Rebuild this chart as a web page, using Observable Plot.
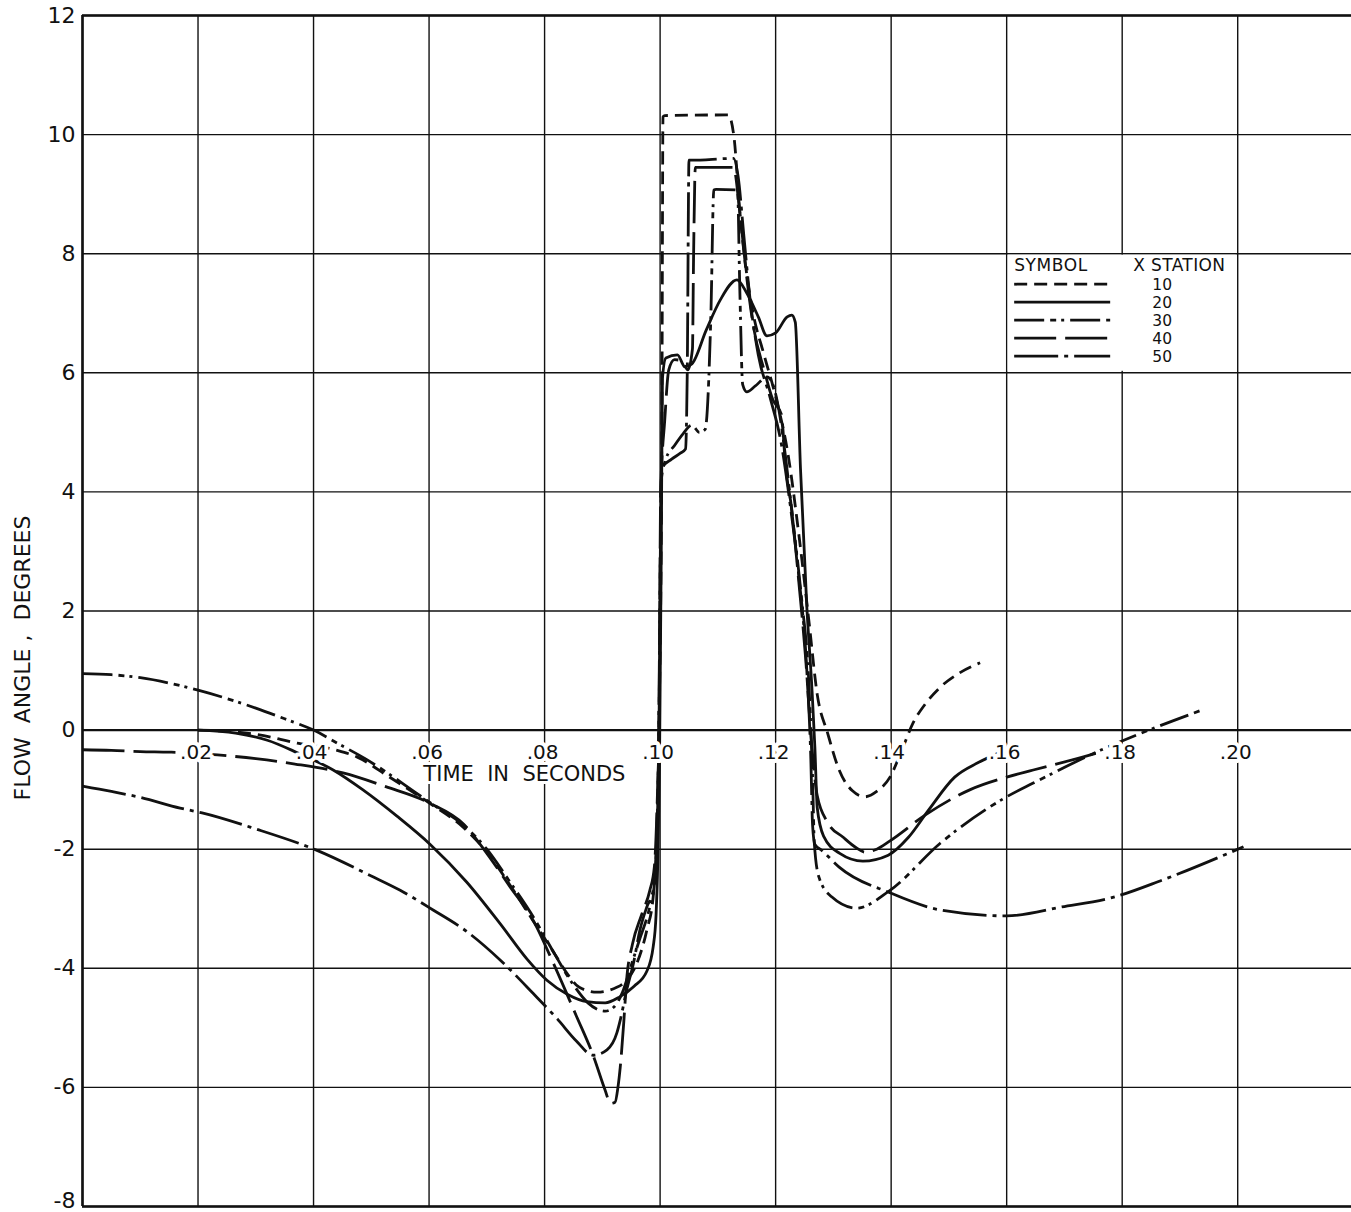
<!DOCTYPE html>
<html><head><meta charset="utf-8">
<script src="https://cdn.jsdelivr.net/npm/d3@7"></script>
<script src="https://cdn.jsdelivr.net/npm/@observablehq/plot@0.6"></script>
<style>
body{margin:0;background:#fff}
#chart{position:relative;width:1351px;height:1212px}
svg{display:block}
</style>
</head><body><div id="chart"></div>
<script>
// ---- tick values and labels ----
const xTicks = [0, 0.02, 0.04, 0.06, 0.08, 0.10, 0.12, 0.14, 0.16, 0.18, 0.20];
const xTickLabels = ["", ".02", ".04", ".06", ".08", ".10", ".12", ".14", ".16", ".18", ".20"];
const yTicks = [-8, -6, -4, -2, 0, 2, 4, 6, 8, 10, 12];
const yTickLabels = ["-8", "-6", "-4", "-2", "0", "2", "4", "6", "8", "10", "12"];
const xTitle = "TIME  IN  SECONDS";
const yTitle = "FLOW  ANGLE ,  DEGREES";
const legendHeader = ["SYMBOL", "X STATION"];
const stations = ["10", "20", "30", "40", "50"];

// ---- series: [time (s), flow angle (deg)] ----
const s10 = [[0.020,0],[0.025,-0.02],[0.030,-0.07],[0.0372,-0.22],[0.0441,-0.34],[0.0475,-0.45],[0.053,-0.78],[0.060,-1.22],[0.066,-1.64],[0.070,-2.05],[0.074,-2.6],[0.078,-3.2],[0.0815,-3.72],[0.084,-4.1],[0.086,-4.32],[0.0891,-4.40],[0.0925,-4.32],[0.0942,-4.2],[0.096,-3.91],[0.0977,-3.36],[0.0988,-2.8],[0.0994,-1.8],[0.0998,0],[0.1003,5],[0.1005,10.3],[0.1008,10.32],[0.1118,10.33],[0.1128,9.95],[0.1138,8.7],[0.1148,7.8],[0.116,7.05],[0.118,6.3],[0.1200,5.6],[0.1222,4.6],[0.1240,3.3],[0.1258,1.8],[0.1272,0.6],[0.1290,-0.05],[0.1310,-0.67],[0.1333,-1.02],[0.1355,-1.12],[0.1375,-1.03],[0.1398,-0.79],[0.1418,-0.35],[0.1438,0.12],[0.146,0.45],[0.1485,0.72],[0.152,0.97],[0.1554,1.13]];
const s20 = [[0.020,0],[0.0265,-0.05],[0.032,-0.17],[0.0372,-0.38],[0.0434,-0.67],[0.0485,-1.0],[0.0545,-1.45],[0.0602,-1.92],[0.0665,-2.55],[0.0723,-3.25],[0.077,-3.85],[0.0804,-4.2],[0.084,-4.44],[0.0873,-4.56],[0.0905,-4.58],[0.093,-4.48],[0.0955,-4.3],[0.0977,-4.05],[0.0988,-3.64],[0.0993,-3.1],[0.0996,-2.2],[0.0999,-0.5],[0.1002,3.0],[0.1004,5.9],[0.1010,6.25],[0.1030,6.3],[0.1043,6.1],[0.1055,6.15],[0.108,6.72],[0.1104,7.22],[0.1133,7.56],[0.1150,7.34],[0.1170,6.94],[0.1185,6.62],[0.1200,6.67],[0.1220,6.94],[0.1228,6.97],[0.1234,6.85],[0.1243,4.4],[0.1254,2.07],[0.1263,0.67],[0.1268,-0.3],[0.1272,-1.3],[0.1283,-1.78],[0.1311,-2.07],[0.1351,-2.2],[0.1395,-2.1],[0.143,-1.8],[0.1465,-1.34],[0.151,-0.79],[0.155,-0.55],[0.159,-0.37]];
const s30 = [[0,0.95],[0.005,0.93],[0.010,0.88],[0.015,0.79],[0.020,0.67],[0.025,0.53],[0.030,0.37],[0.035,0.19],[0.040,0],[0.0445,-0.24],[0.0493,-0.5],[0.0528,-0.72],[0.0565,-0.97],[0.0602,-1.22],[0.066,-1.6],[0.070,-2.0],[0.074,-2.55],[0.078,-3.13],[0.0815,-3.72],[0.085,-4.28],[0.0875,-4.58],[0.0905,-4.72],[0.092,-4.65],[0.0935,-4.4],[0.095,-3.95],[0.0965,-3.5],[0.098,-3.05],[0.0990,-2.6],[0.0995,-1.5],[0.0998,0],[0.1002,4.2],[0.1010,4.55],[0.1025,4.78],[0.104,4.98],[0.1055,5.12],[0.1068,5.0],[0.1078,5.05],[0.1088,7.0],[0.1093,9.07],[0.1097,9.08],[0.1134,9.07],[0.1138,7.4],[0.1143,5.8],[0.1150,5.68],[0.1165,5.78],[0.1185,5.93],[0.1197,5.75],[0.1207,5.3],[0.1217,4.6],[0.1230,3.5],[0.1245,2.2],[0.1258,0.7],[0.1264,-0.8],[0.1267,-1.9],[0.1275,-2.47],[0.1297,-2.8],[0.134,-2.99],[0.1398,-2.69],[0.1485,-1.9],[0.1600,-1.12],[0.1646,-0.89],[0.1762,-0.34],[0.1854,0.03],[0.1939,0.34]];
const s40 = [[0,-0.33],[0.005,-0.34],[0.010,-0.36],[0.015,-0.37],[0.020,-0.39],[0.025,-0.43],[0.030,-0.48],[0.0368,-0.57],[0.0451,-0.72],[0.0525,-0.95],[0.0602,-1.23],[0.066,-1.58],[0.070,-2.07],[0.074,-2.63],[0.078,-3.19],[0.0815,-3.91],[0.0855,-4.8],[0.0884,-5.46],[0.0905,-6.05],[0.0914,-6.27],[0.0922,-6.25],[0.0927,-6.0],[0.0931,-5.66],[0.0937,-4.92],[0.0942,-4.2],[0.0952,-3.6],[0.0968,-3.1],[0.0982,-2.7],[0.0990,-2.3],[0.0995,-1.2],[0.0998,0],[0.1001,4.0],[0.1008,5.2],[0.1015,6.05],[0.1025,6.22],[0.1038,6.2],[0.1048,6.05],[0.1056,6.4],[0.1058,8.0],[0.1061,9.45],[0.1065,9.45],[0.1127,9.45],[0.1138,8.7],[0.1150,7.6],[0.1162,6.75],[0.1180,6.05],[0.1195,5.55],[0.1210,5.3],[0.1217,4.45],[0.1228,3.7],[0.1240,2.5],[0.1252,1.2],[0.1262,-0.2],[0.1272,-1.1],[0.1290,-1.55],[0.1317,-1.8],[0.1340,-1.98],[0.1355,-2.05],[0.1375,-2.0],[0.1398,-1.86],[0.1460,-1.42],[0.1537,-1.0],[0.1600,-0.79],[0.1646,-0.67],[0.1733,-0.45],[0.1762,-0.37]];
const s50 = [[0,-0.94],[0.005,-1.03],[0.010,-1.13],[0.0169,-1.31],[0.0207,-1.39],[0.030,-1.66],[0.0406,-2.02],[0.050,-2.45],[0.055,-2.69],[0.0607,-3.02],[0.0665,-3.38],[0.0723,-3.86],[0.078,-4.42],[0.0822,-4.85],[0.0855,-5.22],[0.0884,-5.46],[0.0908,-5.37],[0.0925,-5.09],[0.0931,-4.87],[0.0942,-4.37],[0.0954,-3.91],[0.0965,-3.36],[0.0977,-2.97],[0.0988,-2.69],[0.0994,-2.0],[0.0997,-0.6],[0.1000,2.5],[0.1003,4.4],[0.1020,4.55],[0.1035,4.65],[0.1044,4.72],[0.1047,6.0],[0.1050,9.57],[0.1054,9.57],[0.1127,9.6],[0.1135,9.3],[0.1145,8.3],[0.1155,7.3],[0.1170,6.3],[0.1190,5.6],[0.1210,4.8],[0.1225,3.8],[0.1240,2.6],[0.1254,1.0],[0.1261,-0.5],[0.1264,-1.6],[0.1268,-1.92],[0.128,-2.02],[0.131,-2.3],[0.140,-2.74],[0.1485,-3.02],[0.160,-3.12],[0.1695,-2.97],[0.1787,-2.8],[0.1869,-2.52],[0.201,-1.96]];

const seriesData = [s10, s20, s30, s40, s50];
const dashPatterns = ["13,7", null, "30,6,6,5,3,6", "42,9", "44,6,4,6"];

const FONT = "DejaVu Sans, Liberation Sans, sans-serif";
const INK = "#111";

const lineMarks = seriesData.map((s, i) => Plot.line(s, {
  x: d => d[0], y: d => d[1],
  curve: "monotone-x",
  stroke: INK, strokeWidth: 2.8,
  strokeDasharray: dashPatterns[i] || undefined,
  strokeLinecap: "butt", strokeLinejoin: "round"
}));

const plot = Plot.plot({
  width: 1351, height: 1212,
  marginLeft: 82, marginRight: 0, marginTop: 15, marginBottom: 6,
  x: {domain: [0, 0.2197], axis: null},
  y: {domain: [-8, 12], axis: null},
  style: {fontFamily: FONT, background: "#fff", color: INK},
  marks: [
    Plot.ruleX(xTicks, {stroke: INK, strokeWidth: 1.4}),
    Plot.ruleY(yTicks, {stroke: INK, strokeWidth: 1.4}),
    Plot.ruleY([0], {stroke: INK, strokeWidth: 2.2}),
    Plot.ruleX([0], {stroke: INK, strokeWidth: 2.6}),
    Plot.ruleY([12, -8], {stroke: INK, strokeWidth: 2.6}),
    ...lineMarks,
    Plot.text(xTicks.slice(1), {
      x: d => d, y: 0, text: (d, i) => xTickLabels[i + 1],
      dy: 22, dx: -2, fontSize: 20, fill: INK,
      stroke: "#fff", strokeWidth: 8, paintOrder: "stroke", strokeLinejoin: "round"
    }),
    Plot.text([xTitle], {
      x: [0.0765], y: [0], text: d => d, dy: 44, fontSize: 21, fill: INK,
      stroke: "#fff", strokeWidth: 6, paintOrder: "stroke"
    }),
    Plot.text(yTicks.slice(1), {
      x: 0, y: d => d, text: (d, i) => yTickLabels[i + 1],
      textAnchor: "end", dx: -7, fontSize: 22, fill: INK
    }),
    Plot.text(yTicks.slice(0, 1), {
      x: 0, y: d => d, text: (d, i) => yTickLabels[i],
      textAnchor: "end", dx: -7, dy: -6, fontSize: 22, fill: INK
    }),
    Plot.text([yTitle], {
      frameAnchor: "left", text: d => d, rotate: -90, textAnchor: "middle",
      dx: -60, dy: 47, fontSize: 22, fill: INK, letterSpacing: 1.8
    })
  ]
});
document.getElementById("chart").appendChild(plot);

// ---- legend inside the grid cell x:[.16,.20], y:[6,8] ----
const X = plot.scale("x"), Y = plot.scale("y");
const lx0 = X.apply(0.16), lx1 = X.apply(0.20), ly0 = Y.apply(8), ly1 = Y.apply(6);
const svg = d3.select(plot);
const g = svg.append("g").attr("font-family", FONT).attr("fill", INK).attr("text-anchor", "start");
g.append("rect").attr("x", lx0 + 1.5).attr("y", ly0 + 1.5)
  .attr("width", lx1 - lx0 - 3).attr("height", ly1 - ly0 - 3).attr("fill", "#fff");
g.append("text").attr("x", lx0 + 8).attr("y", ly0 + 18).attr("font-size", 17).attr("letter-spacing", 0.6).text(legendHeader[0]);
g.append("text").attr("x", lx0 + 127).attr("y", ly0 + 18).attr("font-size", 17).attr("letter-spacing", 0.4).text(legendHeader[1]);
const rowY = [31, 49, 67, 85, 103];
const numY = [37, 55, 73, 91, 109];
stations.forEach((s, i) => {
  g.append("line").attr("x1", lx0 + 8).attr("x2", lx0 + 104)
    .attr("y1", ly0 + rowY[i]).attr("y2", ly0 + rowY[i])
    .attr("stroke", INK).attr("stroke-width", 2.8)
    .attr("stroke-dasharray", dashPatterns[i] || null);
  g.append("text").attr("x", lx0 + 156).attr("y", ly0 + numY[i])
    .attr("font-size", 15.5).attr("text-anchor", "middle").text(s);
});
</script>
</body></html>
